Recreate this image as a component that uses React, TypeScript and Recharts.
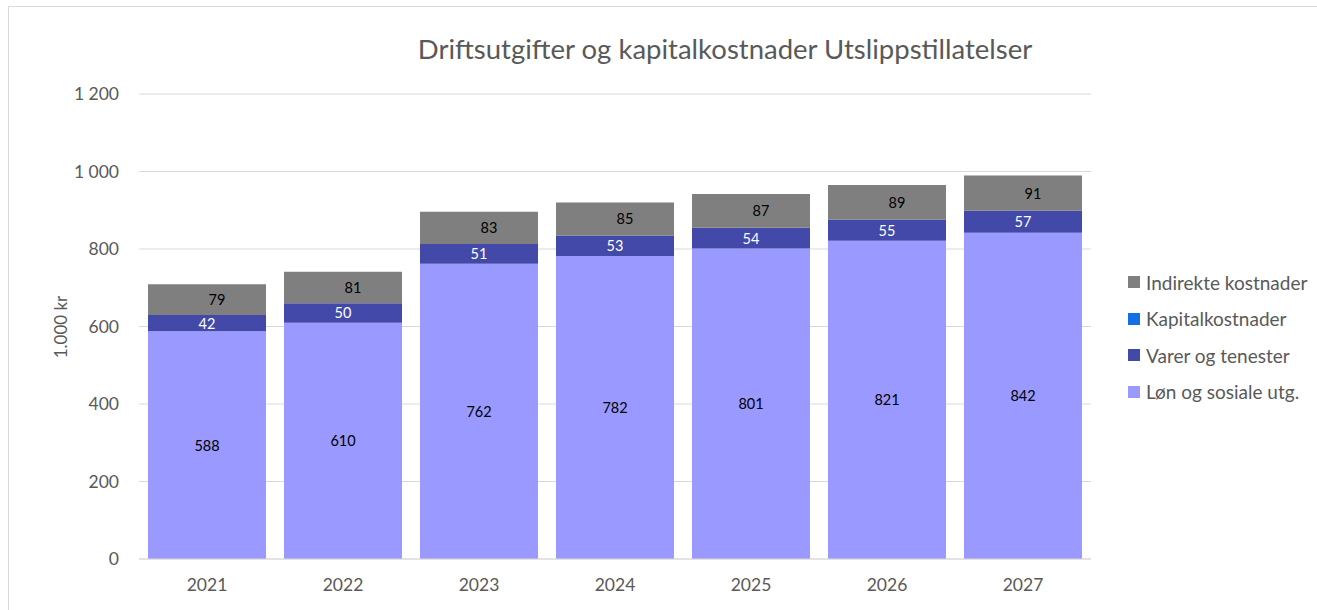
import React from 'react';
import { BarChart, Bar, XAxis, YAxis, CartesianGrid, Legend, LabelList } from 'recharts';

const YEARS = ['2021', '2022', '2023', '2024', '2025', '2026', '2027'];
const LON = [588, 610, 762, 782, 801, 821, 842];
const VARER = [42, 50, 51, 53, 54, 55, 57];
const KAPITAL = [0, 0, 0, 0, 0, 0, 0];
const INDIREKTE = [79, 81, 83, 85, 87, 89, 91];
const Y_TICKS = [0, 200, 400, 600, 800, 1000, 1200];

const SERIES = [
  { key: 'lon', name: 'Løn og sosiale utg.', color: '#9999ff' },
  { key: 'varer', name: 'Varer og tenester', color: '#4349a8' },
  { key: 'kapital', name: 'Kapitalkostnader', color: '#136fe6' },
  { key: 'indirekte', name: 'Indirekte kostnader', color: '#7f7f7f' },
];

const data = YEARS.map((year, i) => ({
  year,
  lon: LON[i],
  varer: VARER[i],
  kapital: KAPITAL[i],
  indirekte: INDIREKTE[i],
}));

const FONT = 'Lato, "Open Sans", sans-serif';
const TEXT = '#595959';

const fmt = (v: number) => v.toLocaleString('nb-NO').replace(/\s/g, ' ');

const labelAt = (fill: string, dx: number) => (props: any) => {
  const { x, y, width, height, value } = props;
  return (
    <text
      x={Number(x) + Number(width) / 2 + dx}
      y={Number(y) + Number(height) / 2}
      textAnchor="middle"
      dominantBaseline="central"
      fill={fill}
      fontSize={14.5}
      fontFamily={FONT}
    >
      {value}
    </text>
  );
};

const renderLegend = () => (
  <div style={{ fontFamily: FONT, fontSize: 19, color: TEXT, textAlign: 'left' }}>
    {[...SERIES].reverse().map((s) => (
      <div key={s.key} style={{ display: 'flex', alignItems: 'center', height: 36.5 }}>
        <span style={{ width: 12, height: 12, background: s.color, marginRight: 6, display: 'inline-block' }} />
        {s.name}
      </div>
    ))}
  </div>
);

export default function App() {
  return (
    <div style={{ position: 'absolute', left: 0, top: 0, width: 1317, height: 610, overflow: 'hidden', background: '#fff' }}>
      <div
        style={{
          position: 'absolute',
          left: 8,
          top: 6,
          width: 1330,
          height: 620,
          borderLeft: '1px solid #d9d9d9',
          borderTop: '1px solid #d9d9d9',
        }}
      />
      <div
        style={{
          position: 'absolute',
          left: 0,
          width: 1450,
          top: 32,
          textAlign: 'center',
          fontFamily: FONT,
          fontSize: 27.5,
          color: TEXT,
        }}
      >
        Driftsutgifter og kapitalkostnader Utslippstillatelser
      </div>
      <div
        style={{
          position: 'absolute',
          left: 60,
          top: 327,
          transform: 'translate(-50%, -50%) rotate(-90deg)',
          fontFamily: FONT,
          fontSize: 17,
          color: TEXT,
          whiteSpace: 'nowrap',
        }}
      >
        1.000 kr
      </div>
      <div style={{ position: 'absolute', left: 0, top: 0 }}>
        <BarChart
          width={1317}
          height={610}
          data={data}
          margin={{ top: 94, right: 226, bottom: 21, left: 79 }}
          barSize={118}
        >
          <CartesianGrid vertical={false} stroke="#d9d9d9" />
          <XAxis
            dataKey="year"
            height={30}
            tickLine={false}
            axisLine={{ stroke: '#d9d9d9' }}
            tick={{ fill: TEXT, fontSize: 17.5, fontFamily: FONT }}
            tickMargin={14}
          />
          <YAxis
            width={60}
            domain={[0, 1200]}
            ticks={Y_TICKS}
            tickFormatter={fmt}
            tickLine={false}
            axisLine={false}
            tick={{ fill: TEXT, fontSize: 17.5, fontFamily: FONT }}
            tickMargin={14}
          />
          <Legend
            layout="vertical"
            align="center"
            verticalAlign="middle"
            content={renderLegend}
            wrapperStyle={{ position: 'absolute', left: 1128, top: 264, width: 190 }}
          />
          {SERIES.map((s) => (
            <Bar key={s.key} dataKey={s.key} name={s.name} stackId="a" fill={s.color} isAnimationActive={false}>
              {s.key === 'lon' && <LabelList dataKey="lon" content={labelAt('#000', 0)} />}
              {s.key === 'varer' && <LabelList dataKey="varer" content={labelAt('#fff', 0)} />}
              {s.key === 'indirekte' && <LabelList dataKey="indirekte" content={labelAt('#000', 10)} />}
            </Bar>
          ))}
        </BarChart>
      </div>
    </div>
  );
}
